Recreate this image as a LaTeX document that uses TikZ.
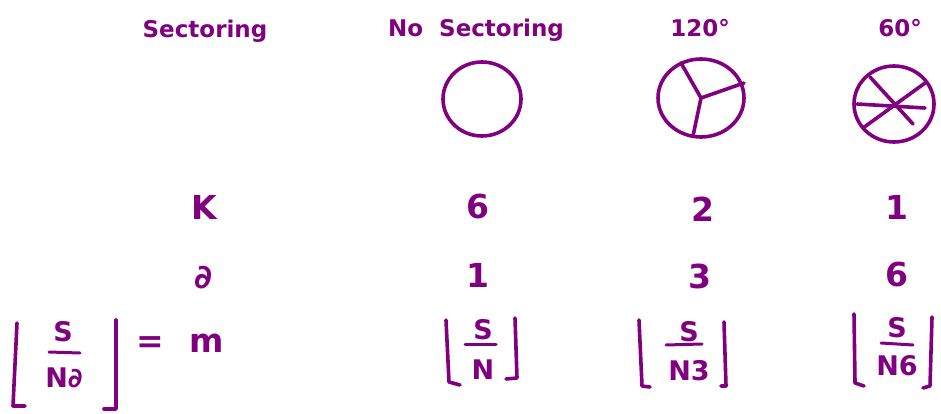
\documentclass[tikz,border=0pt]{standalone}
\usepackage{fontspec}
\setmainfont{DejaVu Sans}
\definecolor{ink}{RGB}{128,0,128}
\begin{document}
\begin{tikzpicture}[x=1pt,y=-1pt,
  txt/.style={text=ink,inner sep=0pt,font=\fontsize{23}{26}\selectfont\bfseries},
  big/.style={text=ink,inner sep=0pt,font=\fontsize{33}{36}\selectfont\bfseries},
  frc/.style={text=ink,inner sep=0pt,font=\fontsize{27}{30}\selectfont\bfseries},
  pen/.style={draw=ink,line width=3.6pt,line cap=round,line join=round},
  bar/.style={draw=ink,line width=3pt,line cap=round}]
\useasboundingbox (0,0) rectangle (941,414);
% headers
\node[txt] (h1) at (205,31) {Sectoring};
\node[txt] (h2) at (476,30) {No\ \ Sectoring};
\node[txt] (h3) at (700,28) {120°};
\node[txt] (h4) at (900,28) {60°};
% circles
\draw[pen] (482,99) ellipse (39 and 37);
\coordinate (c2) at (701,98);
\draw[pen] (c2) ellipse (43 and 39);
\coordinate (c2a) at (681,63);
\coordinate (c2b) at (744,83);
\coordinate (c2c) at (693,136);
\draw[pen] (c2a) -- (c2) -- (c2b);
\draw[pen] (c2) -- (c2c);
\coordinate (c3) at (894,104);
\draw[pen] (c3) ellipse (40 and 38);
\coordinate (c3a) at (870,77);
\coordinate (c3b) at (913,124);
\coordinate (c3c) at (863,128);
\coordinate (c3d) at (925,83);
\coordinate (c3e) at (857,104);
\coordinate (c3f) at (925,108);
\draw[pen] (c3a) -- (c3b);
\draw[pen] (c3c) -- (c3d);
\draw[pen] (c3e) -- (c3f);
% row K
\node[big] (k0) at (204,207) {K};
\node[big] (k1) at (478,207) {6};
\node[big] (k2) at (703,209) {2};
\node[big] (k3) at (897,207) {1};
% row sectors
\node[big] (d0) at (203,278) {∂};
\node[big] (d1) at (478,275) {1};
\node[big] (d2) at (700,276) {3};
\node[big] (d3) at (897,275) {6};
% left formula
\node[frc] (s0) at (63,332) {S};
\node[frc] (n0) at (64,378) {N∂};
\draw[bar] (49,352) -- (80,353);
\draw[pen] (17,323) -- (13,406) -- (25,406);
\draw[pen] (116,320) -- (116,409) -- (104,409);
\node[big] (eq) at (150,345) {=};
\node[big] (m) at (207,343) {m};
% S/N
\node[frc] (s1) at (483,330) {S};
\node[frc] (n1) at (483,370) {N};
\draw[bar] (465,344) -- (496,344);
\draw[pen] (446,320) -- (449,382) -- (460,385);
\draw[pen] (515,318) -- (517,378) -- (506,379);
% S/N3
\node[frc] (s2) at (689,332) {S};
\node[frc] (n2) at (689,371) {N3};
\draw[bar] (666,345) -- (702,344);
\draw[pen] (639,320) -- (642,386) -- (650,387);
\draw[pen] (724,322) -- (726,386) -- (721,386);
% S/N6
\node[frc] (s3) at (897,328) {S};
\node[frc] (n3) at (897,366) {N6};
\draw[bar] (881,343) -- (913,345);
\draw[pen] (854,314) -- (855,383) -- (864,386);
\draw[pen] (932,317) -- (930,386) -- (923,388);
\end{tikzpicture}
\end{document}
